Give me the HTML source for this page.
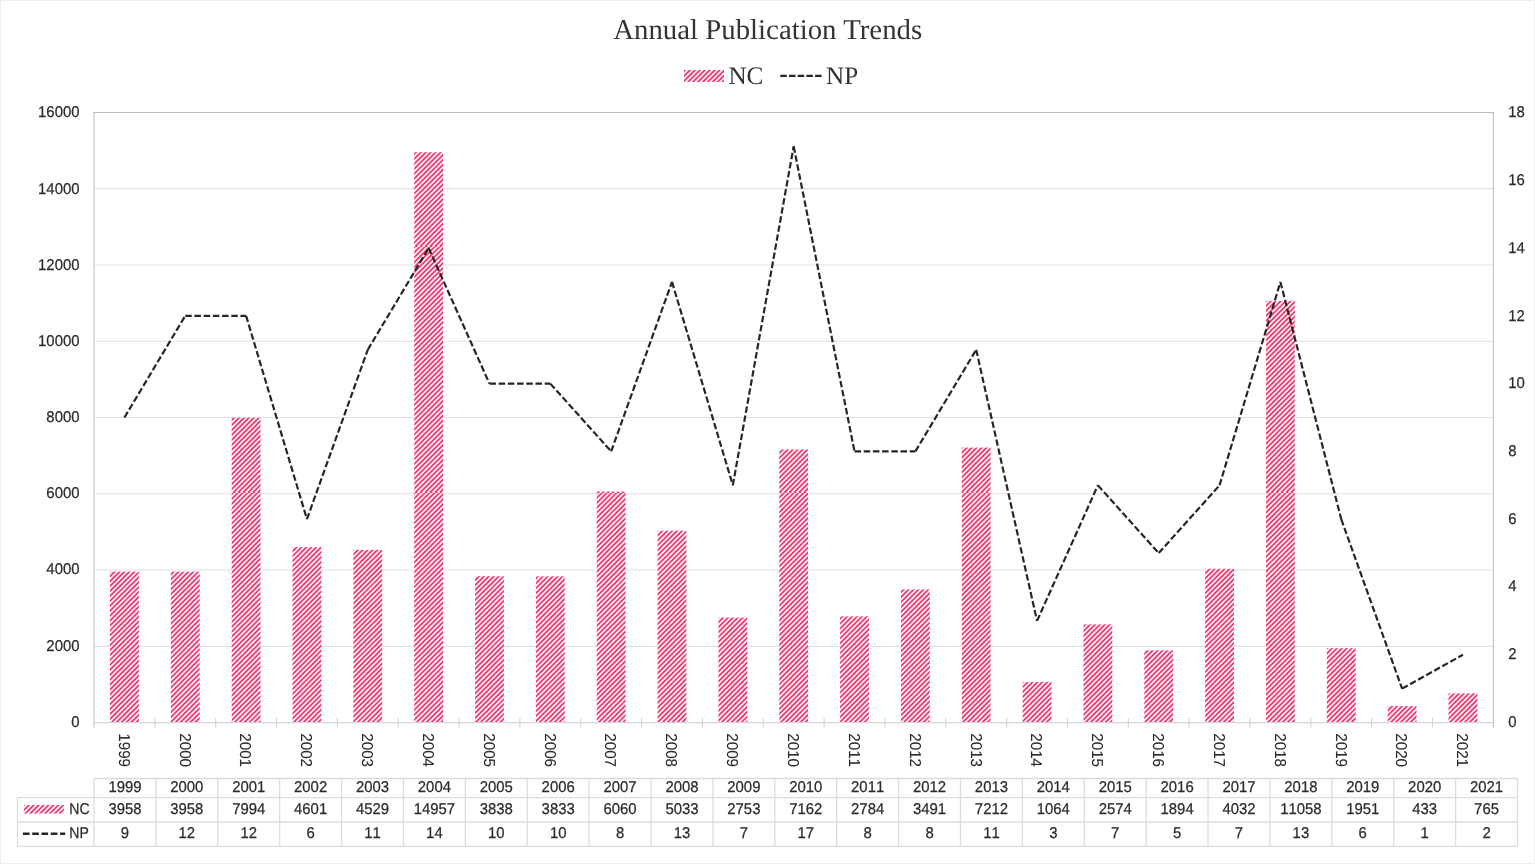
<!DOCTYPE html>
<html lang="en"><head><meta charset="utf-8"><title>Annual Publication Trends</title>
<style>
html,body{margin:0;padding:0;background:#fff;}
body{width:1535px;height:864px;overflow:hidden;}
svg{display:block;text-rendering:geometricPrecision;}
.s{font-family:"Liberation Sans", Arial, sans-serif;font-size:15.6px;fill:#2b2b2b;stroke:#2b2b2b;stroke-width:0.25px;font-kerning:none;}
.t{font-family:"Liberation Serif", "Times New Roman", serif;fill:#333;}
</style></head><body>
<svg width="1535" height="864" viewBox="0 0 1535 864">
<defs>
<pattern id="h" patternUnits="userSpaceOnUse" width="123" height="123" x="2.5" y="0">
<rect width="123" height="123" fill="#fff"/>
<path d="M-2.00 2.00L2.00 -2.00M-2.00 6.92L6.92 -2.00M-2.00 11.84L11.84 -2.00M-2.00 16.76L16.76 -2.00M-2.00 21.68L21.68 -2.00M-2.00 26.60L26.60 -2.00M-2.00 31.52L31.52 -2.00M-2.00 36.44L36.44 -2.00M-2.00 41.36L41.36 -2.00M-2.00 46.28L46.28 -2.00M-2.00 51.20L51.20 -2.00M-2.00 56.12L56.12 -2.00M-2.00 61.04L61.04 -2.00M-2.00 65.96L65.96 -2.00M-2.00 70.88L70.88 -2.00M-2.00 75.80L75.80 -2.00M-2.00 80.72L80.72 -2.00M-2.00 85.64L85.64 -2.00M-2.00 90.56L90.56 -2.00M-2.00 95.48L95.48 -2.00M-2.00 100.40L100.40 -2.00M-2.00 105.32L105.32 -2.00M-2.00 110.24L110.24 -2.00M-2.00 115.16L115.16 -2.00M-2.00 120.08L120.08 -2.00M-2.00 125.00L125.00 -2.00M2.92 125.00L125.00 2.92M7.84 125.00L125.00 7.84M12.76 125.00L125.00 12.76M17.68 125.00L125.00 17.68M22.60 125.00L125.00 22.60M27.52 125.00L125.00 27.52M32.44 125.00L125.00 32.44M37.36 125.00L125.00 37.36M42.28 125.00L125.00 42.28M47.20 125.00L125.00 47.20M52.12 125.00L125.00 52.12M57.04 125.00L125.00 57.04M61.96 125.00L125.00 61.96M66.88 125.00L125.00 66.88M71.80 125.00L125.00 71.80M76.72 125.00L125.00 76.72M81.64 125.00L125.00 81.64M86.56 125.00L125.00 86.56M91.48 125.00L125.00 91.48M96.40 125.00L125.00 96.40M101.32 125.00L125.00 101.32M106.24 125.00L125.00 106.24M111.16 125.00L125.00 111.16M116.08 125.00L125.00 116.08M121.00 125.00L125.00 121.00" stroke="#ee1256" stroke-width="1.56" fill="none"/>
</pattern>
</defs>
<rect x="0" y="0" width="1535" height="864" fill="#fff"/>
<rect x="0.5" y="0.5" width="1534" height="863" fill="none" stroke="#eeeeee" stroke-width="1"/>
<text class="t" x="767.7" y="38.7" font-size="28.82" text-anchor="middle">Annual Publication Trends</text>
<rect x="684" y="70" width="40" height="12" fill="url(#h)"/>
<text class="t" x="728.4" y="83.7" font-size="25.2">NC</text>
<line x1="780.3" y1="75.8" x2="821.6" y2="75.8" stroke="#262626" stroke-width="2.3" stroke-dasharray="6.5 2.2"/>
<text class="t" x="826" y="83.7" font-size="25.2">NP</text>
<line x1="94.0" y1="646.29" x2="1493.3" y2="646.29" stroke="#e1e1e1" stroke-width="1.2"/>
<line x1="94.0" y1="570.02" x2="1493.3" y2="570.02" stroke="#e1e1e1" stroke-width="1.2"/>
<line x1="94.0" y1="493.76" x2="1493.3" y2="493.76" stroke="#e1e1e1" stroke-width="1.2"/>
<line x1="94.0" y1="417.50" x2="1493.3" y2="417.50" stroke="#e1e1e1" stroke-width="1.2"/>
<line x1="94.0" y1="341.24" x2="1493.3" y2="341.24" stroke="#e1e1e1" stroke-width="1.2"/>
<line x1="94.0" y1="264.98" x2="1493.3" y2="264.98" stroke="#e1e1e1" stroke-width="1.2"/>
<line x1="94.0" y1="188.71" x2="1493.3" y2="188.71" stroke="#e1e1e1" stroke-width="1.2"/>
<rect x="110.02" y="571.63" width="28.80" height="150.92" fill="url(#h)"/>
<rect x="170.86" y="571.63" width="28.80" height="150.92" fill="url(#h)"/>
<rect x="231.70" y="417.73" width="28.80" height="304.82" fill="url(#h)"/>
<rect x="292.54" y="547.11" width="28.80" height="175.44" fill="url(#h)"/>
<rect x="353.39" y="549.85" width="28.80" height="172.70" fill="url(#h)"/>
<rect x="414.23" y="152.22" width="28.80" height="570.33" fill="url(#h)"/>
<rect x="475.07" y="576.20" width="28.80" height="146.35" fill="url(#h)"/>
<rect x="535.91" y="576.39" width="28.80" height="146.16" fill="url(#h)"/>
<rect x="596.75" y="491.47" width="28.80" height="231.08" fill="url(#h)"/>
<rect x="657.59" y="530.64" width="28.80" height="191.91" fill="url(#h)"/>
<rect x="718.43" y="617.57" width="28.80" height="104.98" fill="url(#h)"/>
<rect x="779.27" y="449.45" width="28.80" height="273.10" fill="url(#h)"/>
<rect x="840.12" y="616.39" width="28.80" height="106.16" fill="url(#h)"/>
<rect x="900.96" y="589.43" width="28.80" height="133.12" fill="url(#h)"/>
<rect x="961.80" y="447.55" width="28.80" height="275.00" fill="url(#h)"/>
<rect x="1022.64" y="681.98" width="28.80" height="40.57" fill="url(#h)"/>
<rect x="1083.48" y="624.40" width="28.80" height="98.15" fill="url(#h)"/>
<rect x="1144.32" y="650.33" width="28.80" height="72.22" fill="url(#h)"/>
<rect x="1205.16" y="568.80" width="28.80" height="153.75" fill="url(#h)"/>
<rect x="1266.01" y="300.89" width="28.80" height="421.66" fill="url(#h)"/>
<rect x="1326.85" y="648.16" width="28.80" height="74.39" fill="url(#h)"/>
<rect x="1387.69" y="706.04" width="28.80" height="16.51" fill="url(#h)"/>
<rect x="1448.53" y="693.38" width="28.80" height="29.17" fill="url(#h)"/>
<line x1="94.00" y1="111.95" x2="94.00" y2="727.85" stroke="#d0d0d0" stroke-width="1.4"/>
<line x1="93.70" y1="112.45" x2="1493.85" y2="112.45" stroke="#b9b9b9" stroke-width="1.1"/>
<line x1="1493.35" y1="112.45" x2="1493.35" y2="727.85" stroke="#bfbfbf" stroke-width="1.1"/>
<line x1="94.00" y1="722.55" x2="1493.35" y2="722.55" stroke="#d6d6d6" stroke-width="1.15"/>
<line x1="154.84" y1="717.75" x2="154.84" y2="727.75" stroke="#d6d6d6" stroke-width="1.15"/>
<line x1="215.68" y1="717.75" x2="215.68" y2="727.75" stroke="#d6d6d6" stroke-width="1.15"/>
<line x1="276.52" y1="717.75" x2="276.52" y2="727.75" stroke="#d6d6d6" stroke-width="1.15"/>
<line x1="337.37" y1="717.75" x2="337.37" y2="727.75" stroke="#d6d6d6" stroke-width="1.15"/>
<line x1="398.21" y1="717.75" x2="398.21" y2="727.75" stroke="#d6d6d6" stroke-width="1.15"/>
<line x1="459.05" y1="717.75" x2="459.05" y2="727.75" stroke="#d6d6d6" stroke-width="1.15"/>
<line x1="519.89" y1="717.75" x2="519.89" y2="727.75" stroke="#d6d6d6" stroke-width="1.15"/>
<line x1="580.73" y1="717.75" x2="580.73" y2="727.75" stroke="#d6d6d6" stroke-width="1.15"/>
<line x1="641.57" y1="717.75" x2="641.57" y2="727.75" stroke="#d6d6d6" stroke-width="1.15"/>
<line x1="702.41" y1="717.75" x2="702.41" y2="727.75" stroke="#d6d6d6" stroke-width="1.15"/>
<line x1="763.25" y1="717.75" x2="763.25" y2="727.75" stroke="#d6d6d6" stroke-width="1.15"/>
<line x1="824.10" y1="717.75" x2="824.10" y2="727.75" stroke="#d6d6d6" stroke-width="1.15"/>
<line x1="884.94" y1="717.75" x2="884.94" y2="727.75" stroke="#d6d6d6" stroke-width="1.15"/>
<line x1="945.78" y1="717.75" x2="945.78" y2="727.75" stroke="#d6d6d6" stroke-width="1.15"/>
<line x1="1006.62" y1="717.75" x2="1006.62" y2="727.75" stroke="#d6d6d6" stroke-width="1.15"/>
<line x1="1067.46" y1="717.75" x2="1067.46" y2="727.75" stroke="#d6d6d6" stroke-width="1.15"/>
<line x1="1128.30" y1="717.75" x2="1128.30" y2="727.75" stroke="#d6d6d6" stroke-width="1.15"/>
<line x1="1189.14" y1="717.75" x2="1189.14" y2="727.75" stroke="#d6d6d6" stroke-width="1.15"/>
<line x1="1249.98" y1="717.75" x2="1249.98" y2="727.75" stroke="#d6d6d6" stroke-width="1.15"/>
<line x1="1310.83" y1="717.75" x2="1310.83" y2="727.75" stroke="#d6d6d6" stroke-width="1.15"/>
<line x1="1371.67" y1="717.75" x2="1371.67" y2="727.75" stroke="#d6d6d6" stroke-width="1.15"/>
<line x1="1432.51" y1="717.75" x2="1432.51" y2="727.75" stroke="#d6d6d6" stroke-width="1.15"/>
<g fill="none" stroke="#262626" stroke-width="2.2" stroke-dasharray="6.5 2.7">
<path d="M124.42 417.50L185.26 315.82"/>
<path d="M185.26 315.82L246.10 315.82"/>
<path d="M246.10 315.82L306.94 519.18"/>
<path d="M306.94 519.18L367.79 349.71"/>
<path d="M367.79 349.71L428.63 248.03"/>
<path d="M428.63 248.03L489.47 383.61"/>
<path d="M489.47 383.61L550.31 383.61"/>
<path d="M550.31 383.61L611.15 451.39"/>
<path d="M611.15 451.39L671.99 281.92"/>
<path d="M671.99 281.92L732.83 485.29"/>
<path d="M732.83 485.29L793.67 146.34"/>
<path d="M793.67 146.34L854.52 451.39"/>
<path d="M854.52 451.39L915.36 451.39"/>
<path d="M915.36 451.39L976.20 349.71"/>
<path d="M976.20 349.71L1037.04 620.87"/>
<path d="M1037.04 620.87L1097.88 485.29"/>
<path d="M1097.88 485.29L1158.72 553.08"/>
<path d="M1158.72 553.08L1219.56 485.29"/>
<path d="M1219.56 485.29L1280.41 281.92"/>
<path d="M1280.41 281.92L1341.25 519.18"/>
<path d="M1341.25 519.18L1402.09 688.66"/>
<path d="M1402.09 688.66L1462.93 654.76"/>
</g>
<text class="s" text-anchor="end" transform="translate(79.50 726.65) scale(0.955 1)">0</text>
<text class="s" text-anchor="end" transform="translate(79.50 650.50) scale(0.955 1)">2000</text>
<text class="s" text-anchor="end" transform="translate(79.50 574.35) scale(0.955 1)">4000</text>
<text class="s" text-anchor="end" transform="translate(79.50 498.20) scale(0.955 1)">6000</text>
<text class="s" text-anchor="end" transform="translate(79.50 422.05) scale(0.955 1)">8000</text>
<text class="s" text-anchor="end" transform="translate(79.50 345.90) scale(0.955 1)">10000</text>
<text class="s" text-anchor="end" transform="translate(79.50 269.75) scale(0.955 1)">12000</text>
<text class="s" text-anchor="end" transform="translate(79.50 193.60) scale(0.955 1)">14000</text>
<text class="s" text-anchor="end" transform="translate(79.50 117.45) scale(0.955 1)">16000</text>
<text class="s" transform="translate(1508.30 726.65) scale(0.955 1)">0</text>
<text class="s" transform="translate(1508.30 658.96) scale(0.955 1)">2</text>
<text class="s" transform="translate(1508.30 591.27) scale(0.955 1)">4</text>
<text class="s" transform="translate(1508.30 523.58) scale(0.955 1)">6</text>
<text class="s" transform="translate(1508.30 455.89) scale(0.955 1)">8</text>
<text class="s" transform="translate(1508.30 388.21) scale(0.955 1)">10</text>
<text class="s" transform="translate(1508.30 320.52) scale(0.955 1)">12</text>
<text class="s" transform="translate(1508.30 252.83) scale(0.955 1)">14</text>
<text class="s" transform="translate(1508.30 185.14) scale(0.955 1)">16</text>
<text class="s" transform="translate(1508.30 117.45) scale(0.955 1)">18</text>
<text class="s" style="font-size:15.8px;stroke-width:0.08px" transform="translate(118.72 733.3) rotate(90) scale(0.96 1)">1999</text>
<text class="s" style="font-size:15.8px;stroke-width:0.08px" transform="translate(179.56 733.3) rotate(90) scale(0.96 1)">2000</text>
<text class="s" style="font-size:15.8px;stroke-width:0.08px" transform="translate(240.40 733.3) rotate(90) scale(0.96 1)">2001</text>
<text class="s" style="font-size:15.8px;stroke-width:0.08px" transform="translate(301.24 733.3) rotate(90) scale(0.96 1)">2002</text>
<text class="s" style="font-size:15.8px;stroke-width:0.08px" transform="translate(362.09 733.3) rotate(90) scale(0.96 1)">2003</text>
<text class="s" style="font-size:15.8px;stroke-width:0.08px" transform="translate(422.93 733.3) rotate(90) scale(0.96 1)">2004</text>
<text class="s" style="font-size:15.8px;stroke-width:0.08px" transform="translate(483.77 733.3) rotate(90) scale(0.96 1)">2005</text>
<text class="s" style="font-size:15.8px;stroke-width:0.08px" transform="translate(544.61 733.3) rotate(90) scale(0.96 1)">2006</text>
<text class="s" style="font-size:15.8px;stroke-width:0.08px" transform="translate(605.45 733.3) rotate(90) scale(0.96 1)">2007</text>
<text class="s" style="font-size:15.8px;stroke-width:0.08px" transform="translate(666.29 733.3) rotate(90) scale(0.96 1)">2008</text>
<text class="s" style="font-size:15.8px;stroke-width:0.08px" transform="translate(727.13 733.3) rotate(90) scale(0.96 1)">2009</text>
<text class="s" style="font-size:15.8px;stroke-width:0.08px" transform="translate(787.97 733.3) rotate(90) scale(0.96 1)">2010</text>
<text class="s" style="font-size:15.8px;stroke-width:0.08px" transform="translate(848.82 733.3) rotate(90) scale(0.96 1)">2011</text>
<text class="s" style="font-size:15.8px;stroke-width:0.08px" transform="translate(909.66 733.3) rotate(90) scale(0.96 1)">2012</text>
<text class="s" style="font-size:15.8px;stroke-width:0.08px" transform="translate(970.50 733.3) rotate(90) scale(0.96 1)">2013</text>
<text class="s" style="font-size:15.8px;stroke-width:0.08px" transform="translate(1031.34 733.3) rotate(90) scale(0.96 1)">2014</text>
<text class="s" style="font-size:15.8px;stroke-width:0.08px" transform="translate(1092.18 733.3) rotate(90) scale(0.96 1)">2015</text>
<text class="s" style="font-size:15.8px;stroke-width:0.08px" transform="translate(1153.02 733.3) rotate(90) scale(0.96 1)">2016</text>
<text class="s" style="font-size:15.8px;stroke-width:0.08px" transform="translate(1213.86 733.3) rotate(90) scale(0.96 1)">2017</text>
<text class="s" style="font-size:15.8px;stroke-width:0.08px" transform="translate(1274.71 733.3) rotate(90) scale(0.96 1)">2018</text>
<text class="s" style="font-size:15.8px;stroke-width:0.08px" transform="translate(1335.55 733.3) rotate(90) scale(0.96 1)">2019</text>
<text class="s" style="font-size:15.8px;stroke-width:0.08px" transform="translate(1396.39 733.3) rotate(90) scale(0.96 1)">2020</text>
<text class="s" style="font-size:15.8px;stroke-width:0.08px" transform="translate(1457.23 733.3) rotate(90) scale(0.96 1)">2021</text>
<g stroke="#dcdcdc" stroke-width="1.3" fill="none">
<path d="M94.0 778.5H1517.5"/>
<path d="M17.5 797.6H1517.5"/>
<path d="M17.5 822.0H1517.5"/>
<path d="M17.5 846.3H1517.5"/>
<path d="M17.5 797.6V846.3"/>
<path d="M94.00 778.5V846.3"/>
<path d="M155.89 778.5V846.3"/>
<path d="M217.78 778.5V846.3"/>
<path d="M279.67 778.5V846.3"/>
<path d="M341.57 778.5V846.3"/>
<path d="M403.46 778.5V846.3"/>
<path d="M465.35 778.5V846.3"/>
<path d="M527.24 778.5V846.3"/>
<path d="M589.13 778.5V846.3"/>
<path d="M651.02 778.5V846.3"/>
<path d="M712.91 778.5V846.3"/>
<path d="M774.80 778.5V846.3"/>
<path d="M836.70 778.5V846.3"/>
<path d="M898.59 778.5V846.3"/>
<path d="M960.48 778.5V846.3"/>
<path d="M1022.37 778.5V846.3"/>
<path d="M1084.26 778.5V846.3"/>
<path d="M1146.15 778.5V846.3"/>
<path d="M1208.04 778.5V846.3"/>
<path d="M1269.93 778.5V846.3"/>
<path d="M1331.83 778.5V846.3"/>
<path d="M1393.72 778.5V846.3"/>
<path d="M1455.61 778.5V846.3"/>
<path d="M1517.50 778.5V846.3"/>
</g>
<text class="s" text-anchor="middle" transform="translate(124.95 792.25) scale(0.955 1)">1999</text>
<text class="s" text-anchor="middle" transform="translate(124.95 814.30) scale(0.955 1)">3958</text>
<text class="s" text-anchor="middle" transform="translate(124.95 838.40) scale(0.955 1)">9</text>
<text class="s" text-anchor="middle" transform="translate(186.84 792.25) scale(0.955 1)">2000</text>
<text class="s" text-anchor="middle" transform="translate(186.84 814.30) scale(0.955 1)">3958</text>
<text class="s" text-anchor="middle" transform="translate(186.84 838.40) scale(0.955 1)">12</text>
<text class="s" text-anchor="middle" transform="translate(248.73 792.25) scale(0.955 1)">2001</text>
<text class="s" text-anchor="middle" transform="translate(248.73 814.30) scale(0.955 1)">7994</text>
<text class="s" text-anchor="middle" transform="translate(248.73 838.40) scale(0.955 1)">12</text>
<text class="s" text-anchor="middle" transform="translate(310.62 792.25) scale(0.955 1)">2002</text>
<text class="s" text-anchor="middle" transform="translate(310.62 814.30) scale(0.955 1)">4601</text>
<text class="s" text-anchor="middle" transform="translate(310.62 838.40) scale(0.955 1)">6</text>
<text class="s" text-anchor="middle" transform="translate(372.51 792.25) scale(0.955 1)">2003</text>
<text class="s" text-anchor="middle" transform="translate(372.51 814.30) scale(0.955 1)">4529</text>
<text class="s" text-anchor="middle" transform="translate(372.51 838.40) scale(0.955 1)">11</text>
<text class="s" text-anchor="middle" transform="translate(434.40 792.25) scale(0.955 1)">2004</text>
<text class="s" text-anchor="middle" transform="translate(434.40 814.30) scale(0.955 1)">14957</text>
<text class="s" text-anchor="middle" transform="translate(434.40 838.40) scale(0.955 1)">14</text>
<text class="s" text-anchor="middle" transform="translate(496.29 792.25) scale(0.955 1)">2005</text>
<text class="s" text-anchor="middle" transform="translate(496.29 814.30) scale(0.955 1)">3838</text>
<text class="s" text-anchor="middle" transform="translate(496.29 838.40) scale(0.955 1)">10</text>
<text class="s" text-anchor="middle" transform="translate(558.18 792.25) scale(0.955 1)">2006</text>
<text class="s" text-anchor="middle" transform="translate(558.18 814.30) scale(0.955 1)">3833</text>
<text class="s" text-anchor="middle" transform="translate(558.18 838.40) scale(0.955 1)">10</text>
<text class="s" text-anchor="middle" transform="translate(620.08 792.25) scale(0.955 1)">2007</text>
<text class="s" text-anchor="middle" transform="translate(620.08 814.30) scale(0.955 1)">6060</text>
<text class="s" text-anchor="middle" transform="translate(620.08 838.40) scale(0.955 1)">8</text>
<text class="s" text-anchor="middle" transform="translate(681.97 792.25) scale(0.955 1)">2008</text>
<text class="s" text-anchor="middle" transform="translate(681.97 814.30) scale(0.955 1)">5033</text>
<text class="s" text-anchor="middle" transform="translate(681.97 838.40) scale(0.955 1)">13</text>
<text class="s" text-anchor="middle" transform="translate(743.86 792.25) scale(0.955 1)">2009</text>
<text class="s" text-anchor="middle" transform="translate(743.86 814.30) scale(0.955 1)">2753</text>
<text class="s" text-anchor="middle" transform="translate(743.86 838.40) scale(0.955 1)">7</text>
<text class="s" text-anchor="middle" transform="translate(805.75 792.25) scale(0.955 1)">2010</text>
<text class="s" text-anchor="middle" transform="translate(805.75 814.30) scale(0.955 1)">7162</text>
<text class="s" text-anchor="middle" transform="translate(805.75 838.40) scale(0.955 1)">17</text>
<text class="s" text-anchor="middle" transform="translate(867.64 792.25) scale(0.955 1)">2011</text>
<text class="s" text-anchor="middle" transform="translate(867.64 814.30) scale(0.955 1)">2784</text>
<text class="s" text-anchor="middle" transform="translate(867.64 838.40) scale(0.955 1)">8</text>
<text class="s" text-anchor="middle" transform="translate(929.53 792.25) scale(0.955 1)">2012</text>
<text class="s" text-anchor="middle" transform="translate(929.53 814.30) scale(0.955 1)">3491</text>
<text class="s" text-anchor="middle" transform="translate(929.53 838.40) scale(0.955 1)">8</text>
<text class="s" text-anchor="middle" transform="translate(991.42 792.25) scale(0.955 1)">2013</text>
<text class="s" text-anchor="middle" transform="translate(991.42 814.30) scale(0.955 1)">7212</text>
<text class="s" text-anchor="middle" transform="translate(991.42 838.40) scale(0.955 1)">11</text>
<text class="s" text-anchor="middle" transform="translate(1053.32 792.25) scale(0.955 1)">2014</text>
<text class="s" text-anchor="middle" transform="translate(1053.32 814.30) scale(0.955 1)">1064</text>
<text class="s" text-anchor="middle" transform="translate(1053.32 838.40) scale(0.955 1)">3</text>
<text class="s" text-anchor="middle" transform="translate(1115.21 792.25) scale(0.955 1)">2015</text>
<text class="s" text-anchor="middle" transform="translate(1115.21 814.30) scale(0.955 1)">2574</text>
<text class="s" text-anchor="middle" transform="translate(1115.21 838.40) scale(0.955 1)">7</text>
<text class="s" text-anchor="middle" transform="translate(1177.10 792.25) scale(0.955 1)">2016</text>
<text class="s" text-anchor="middle" transform="translate(1177.10 814.30) scale(0.955 1)">1894</text>
<text class="s" text-anchor="middle" transform="translate(1177.10 838.40) scale(0.955 1)">5</text>
<text class="s" text-anchor="middle" transform="translate(1238.99 792.25) scale(0.955 1)">2017</text>
<text class="s" text-anchor="middle" transform="translate(1238.99 814.30) scale(0.955 1)">4032</text>
<text class="s" text-anchor="middle" transform="translate(1238.99 838.40) scale(0.955 1)">7</text>
<text class="s" text-anchor="middle" transform="translate(1300.88 792.25) scale(0.955 1)">2018</text>
<text class="s" text-anchor="middle" transform="translate(1300.88 814.30) scale(0.955 1)">11058</text>
<text class="s" text-anchor="middle" transform="translate(1300.88 838.40) scale(0.955 1)">13</text>
<text class="s" text-anchor="middle" transform="translate(1362.77 792.25) scale(0.955 1)">2019</text>
<text class="s" text-anchor="middle" transform="translate(1362.77 814.30) scale(0.955 1)">1951</text>
<text class="s" text-anchor="middle" transform="translate(1362.77 838.40) scale(0.955 1)">6</text>
<text class="s" text-anchor="middle" transform="translate(1424.66 792.25) scale(0.955 1)">2020</text>
<text class="s" text-anchor="middle" transform="translate(1424.66 814.30) scale(0.955 1)">433</text>
<text class="s" text-anchor="middle" transform="translate(1424.66 838.40) scale(0.955 1)">1</text>
<text class="s" text-anchor="middle" transform="translate(1486.55 792.25) scale(0.955 1)">2021</text>
<text class="s" text-anchor="middle" transform="translate(1486.55 814.30) scale(0.955 1)">765</text>
<text class="s" text-anchor="middle" transform="translate(1486.55 838.40) scale(0.955 1)">2</text>
<rect x="24" y="804.9" width="39.8" height="8.7" fill="url(#h)"/>
<text class="s" transform="translate(69.3 813.7) scale(0.9 1)">NC</text>
<line x1="22.9" y1="833.75" x2="65.2" y2="833.75" stroke="#262626" stroke-width="2.3" stroke-dasharray="6.6 2.7"/>
<text class="s" transform="translate(69.3 837.9) scale(0.9 1)">NP</text>
</svg>
</body></html>
